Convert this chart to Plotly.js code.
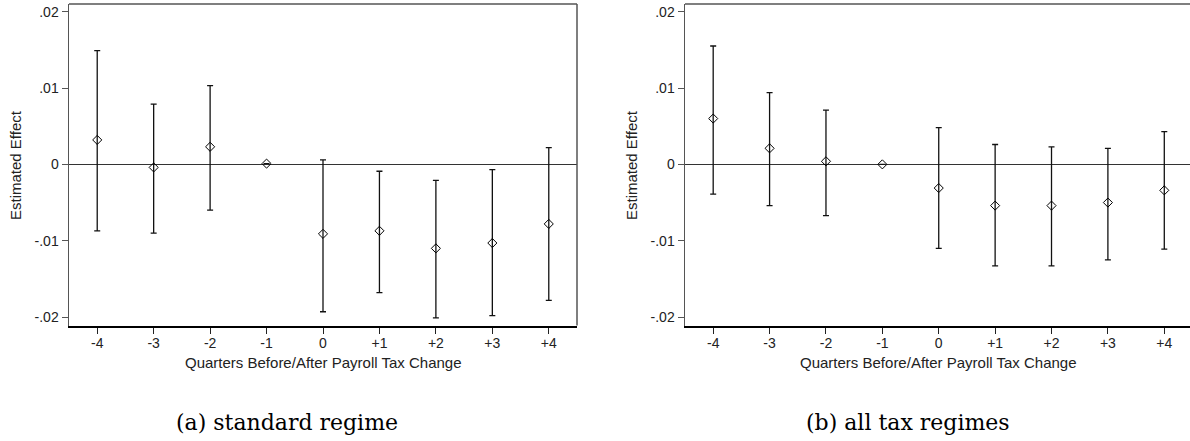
<!DOCTYPE html>
<html>
<head>
<meta charset="utf-8">
<script src="https://cdn.plot.ly/plotly-3.0.1.min.js"></script>
<style>html,body{margin:0;padding:0;background:#fff;}#chart{width:1190px;height:441px;}</style>
</head>
<body>
<div id="chart"></div>
<script>
// Quarters relative to payroll tax change
const quarters = [-4, -3, -2, -1, 0, 1, 2, 3, 4];
const xTickText = ['-4', '-3', '-2', '-1', '0', '+1', '+2', '+3', '+4'];
const yTickVals = [-0.02, -0.01, 0, 0.01, 0.02];
const yTickText = ['-.02', '-.01', '0', '.01', '.02'];

// (a) standard regime
const stdEst   = [0.0032, -0.0004, 0.0023, 0.0001, -0.0091, -0.0087, -0.0110, -0.0103, -0.0078];
const stdUpper = [0.0149, 0.0079, 0.0103, 0.0001, 0.0006, -0.0009, -0.0021, -0.0007, 0.0022];
const stdLower = [-0.0087, -0.0090, -0.0060, 0.0001, -0.0193, -0.0168, -0.0201, -0.0198, -0.0178];

// (b) all tax regimes
const allEst   = [0.0060, 0.0021, 0.0004, 0.0000, -0.0031, -0.0054, -0.0054, -0.0050, -0.0034];
const allUpper = [0.0155, 0.0094, 0.0071, 0.0000, 0.0048, 0.0026, 0.0023, 0.0021, 0.0043];
const allLower = [-0.0039, -0.0054, -0.0067, 0.0000, -0.0110, -0.0133, -0.0133, -0.0125, -0.0111];

const captions = ['(a) standard regime', '(b) all tax regimes'];
const xTitle = 'Quarters Before/After Payroll Tax Change';
const yTitle = 'Estimated Effect';

function trace(est, up, lo, xa, ya) {
  return {
    type: 'scatter', mode: 'markers', x: quarters, y: est, xaxis: xa, yaxis: ya,
    marker: {symbol: 'diamond-open', size: 7, color: '#000', line: {width: 1, color: '#000'}},
    error_y: {
      type: 'data', symmetric: false,
      array: up.map((u, i) => u - est[i]),
      arrayminus: lo.map((l, i) => est[i] - l),
      color: '#111', thickness: 1.3, width: 3
    },
    showlegend: false, hoverinfo: 'x+y'
  };
}

const W = 1190, H = 441;
const fontSans = 'Liberation Sans, Arial, sans-serif';
const yDom = [1 - 325.5 / H, 1 - 4 / H];

function xaxis(dom, range) {
  return {
    domain: dom, range: range, tickmode: 'array', tickvals: quarters, ticktext: xTickText,
    showline: true, linecolor: '#000', linewidth: 2.5, ticks: 'outside', ticklen: 6,
    tickcolor: '#222', tickwidth: 1, showgrid: false, zeroline: false, mirror: false,
    ticklabelstandoff: -3,
    tickfont: {family: fontSans, size: 14, color: '#222'}, fixedrange: true
  };
}
function yaxis(anchor) {
  return {
    domain: yDom, range: [-0.0211, 0.0210], anchor: anchor, tickmode: 'array',
    tickvals: yTickVals, ticktext: yTickText, showline: true, linecolor: '#555', linewidth: 1.5,
    ticks: 'outside', ticklen: 6, tickcolor: '#555', tickwidth: 1, showgrid: false,
    zeroline: true, zerolinecolor: '#333', zerolinewidth: 1,
    tickfont: {family: fontSans, size: 14, color: '#222'}, fixedrange: true
  };
}

const leftDom = [69 / W, 577 / W];
const rightDom = [685 / W, 1];

const layout = {
  width: W, height: H, margin: {l: 0, r: 0, t: 0, b: 0},
  paper_bgcolor: '#fff', plot_bgcolor: '#fff',
  xaxis: Object.assign(xaxis(leftDom, [-4.5, 4.5]), {anchor: 'y'}),
  yaxis: yaxis('x'),
  xaxis2: Object.assign(xaxis(rightDom, [-4.5, 4.456]), {anchor: 'y2'}),
  yaxis2: yaxis('x2'),
  shapes: [
    {type: 'line', xref: 'x domain', yref: 'y domain', x0: 0, x1: 1, y0: 1, y1: 1, line: {color: '#555', width: 1.5}},
    {type: 'line', xref: 'x domain', yref: 'y domain', x0: 1, x1: 1, y0: 0, y1: 1, line: {color: '#555', width: 1.5}},
    {type: 'line', xref: 'x2 domain', yref: 'y2 domain', x0: 0, x1: 1, y0: 1, y1: 1, line: {color: '#555', width: 1.5}}
  ],
  annotations: [
    {text: xTitle, xref: 'paper', yref: 'paper', x: 323 / W, y: 1 - 362 / H, showarrow: false,
     xanchor: 'center', yanchor: 'middle', font: {family: fontSans, size: 15, color: '#222'}},
    {text: xTitle, xref: 'paper', yref: 'paper', x: 938 / W, y: 1 - 362 / H, showarrow: false,
     xanchor: 'center', yanchor: 'middle', font: {family: fontSans, size: 15, color: '#222'}},
    {text: yTitle, xref: 'paper', yref: 'paper', x: 15 / W, y: 1 - 165 / H, showarrow: false, textangle: -90,
     xanchor: 'center', yanchor: 'middle', font: {family: fontSans, size: 15, color: '#222'}},
    {text: yTitle, xref: 'paper', yref: 'paper', x: 631 / W, y: 1 - 165 / H, showarrow: false, textangle: -90,
     xanchor: 'center', yanchor: 'middle', font: {family: fontSans, size: 15, color: '#222'}},
    {text: captions[0], xref: 'paper', yref: 'paper', x: 287 / W, y: 1 - 422 / H, showarrow: false,
     xanchor: 'center', yanchor: 'middle', font: {family: 'DejaVu Serif, serif', size: 22, color: '#000'}},
    {text: captions[1], xref: 'paper', yref: 'paper', x: 908 / W, y: 1 - 422 / H, showarrow: false,
     xanchor: 'center', yanchor: 'middle', font: {family: 'DejaVu Serif, serif', size: 22, color: '#000'}}
  ]
};

Plotly.newPlot('chart', [
  trace(stdEst, stdUpper, stdLower, 'x', 'y'),
  trace(allEst, allUpper, allLower, 'x2', 'y2')
], layout, {displayModeBar: false, staticPlot: true});
</script>
</body>
</html>
